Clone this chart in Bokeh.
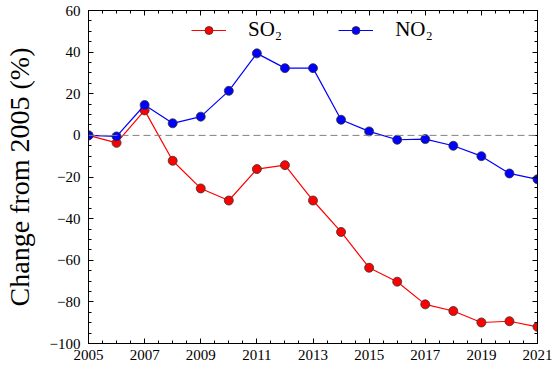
from bokeh.plotting import figure
from bokeh.models import (Range1d, FixedTicker, LinearAxis, Span, Legend, LegendItem,
                          CustomJSTickFormatter, ColumnDataSource)
from bokeh.embed import file_html
from bokeh.resources import INLINE

years = list(range(2005, 2022))
so2 = [0, -3.6, 12, -12.2, -25.5, -31.3, -16.2, -14.3, -31.3, -46.4, -63.6, -70.3,
       -81.2, -84.4, -89.9, -89.3, -92.0]
no2 = [0, -0.5, 14.6, 5.8, 9.0, 21.4, 39.4, 32.3, 32.3, 7.5, 1.9, -2.1,
       -1.8, -5.0, -10.0, -18.3, -21.1]
x_ticks = [2005, 2007, 2009, 2011, 2013, 2015, 2017, 2019, 2021]
x_minor = [2005 + 0.5 * i for i in range(33)]
y_ticks = [-100, -80, -60, -40, -20, 0, 20, 40, 60]
y_minor = [-100 + 5 * i for i in range(33)]
series_names = ["SO\u2082", "NO\u2082"]
y_label = "Change from 2005 (%)"

FONT = "Liberation Serif"

p = figure(width=556, height=375, output_backend="svg", toolbar_location=None,
           x_range=Range1d(2005, 2021), y_range=Range1d(-100, 60),
           min_border_left=86, min_border_right=19, min_border_top=10, min_border_bottom=32)
p.xgrid.visible = False
p.ygrid.visible = False
p.outline_line_color = "black"
p.outline_line_width = 1
p.background_fill_color = "white"
p.border_fill_color = "white"

minus_fmt = CustomJSTickFormatter(code="return (tick < 0 ? '\u2212' : '') + Math.abs(tick);")
blank_fmt = CustomJSTickFormatter(code="return '';")

def style_axis(ax, ticks, minor, fmt, show_labels=True):
    ax.ticker = FixedTicker(ticks=ticks, minor_ticks=minor)
    ax.major_tick_in = 5
    ax.major_tick_out = 0
    ax.minor_tick_in = 3
    ax.minor_tick_out = 0
    ax.axis_line_color = "black"
    ax.major_tick_line_color = "black"
    ax.minor_tick_line_color = "black"
    ax.formatter = fmt
    ax.major_label_text_font = FONT
    ax.major_label_text_font_size = "15px"
    ax.major_label_text_color = "black"
    if not show_labels:
        ax.major_label_standoff = 0
        ax.major_label_text_font_size = "0px"

style_axis(p.xaxis[0], x_ticks, x_minor, minus_fmt)
p.xaxis[0].major_label_standoff = 6
style_axis(p.yaxis[0], y_ticks, y_minor, minus_fmt)
p.yaxis[0].major_label_standoff = 8
p.yaxis[0].axis_label = y_label
p.yaxis[0].axis_label_text_font = FONT
p.yaxis[0].axis_label_text_font_size = "28px"
p.yaxis[0].axis_label_text_font_style = "normal"
p.yaxis[0].axis_label_text_color = "black"
p.yaxis[0].axis_label_standoff = 12

top_ax = LinearAxis()
style_axis(top_ax, x_ticks, x_minor, blank_fmt, show_labels=False)
p.add_layout(top_ax, "above")
right_ax = LinearAxis()
style_axis(right_ax, y_ticks, y_minor, blank_fmt, show_labels=False)
p.add_layout(right_ax, "right")

p.add_layout(Span(location=0, dimension="width", line_color="gray",
                  line_dash="7 4", line_width=1))

src = ColumnDataSource(dict(x=years, so2=so2, no2=no2))
l1 = p.line("x", "so2", source=src, line_color="#ff0000", line_width=1.2)
s1 = p.scatter("x", "so2", source=src, size=9, fill_color="#ff0000",
               line_color="#333333", line_width=0.8)
l2 = p.line("x", "no2", source=src, line_color="#0000ff", line_width=1.2)
s2 = p.scatter("x", "no2", source=src, size=9, fill_color="#0000ff",
               line_color="#333333", line_width=0.8)

legend = Legend(items=[LegendItem(label=series_names[0], renderers=[l1, s1]),
                       LegendItem(label=series_names[1], renderers=[l2, s2])],
                location=(103, 301), orientation="horizontal",
                border_line_color=None, background_fill_alpha=0,
                label_text_font=FONT, label_text_font_size="21px",
                label_text_color="black",
                glyph_width=35, glyph_height=20, label_height=20,
                label_standoff=22, spacing=56, margin=0, padding=10)
p.add_layout(legend, "center")

open("out.html", "w").write(file_html(p, INLINE))
